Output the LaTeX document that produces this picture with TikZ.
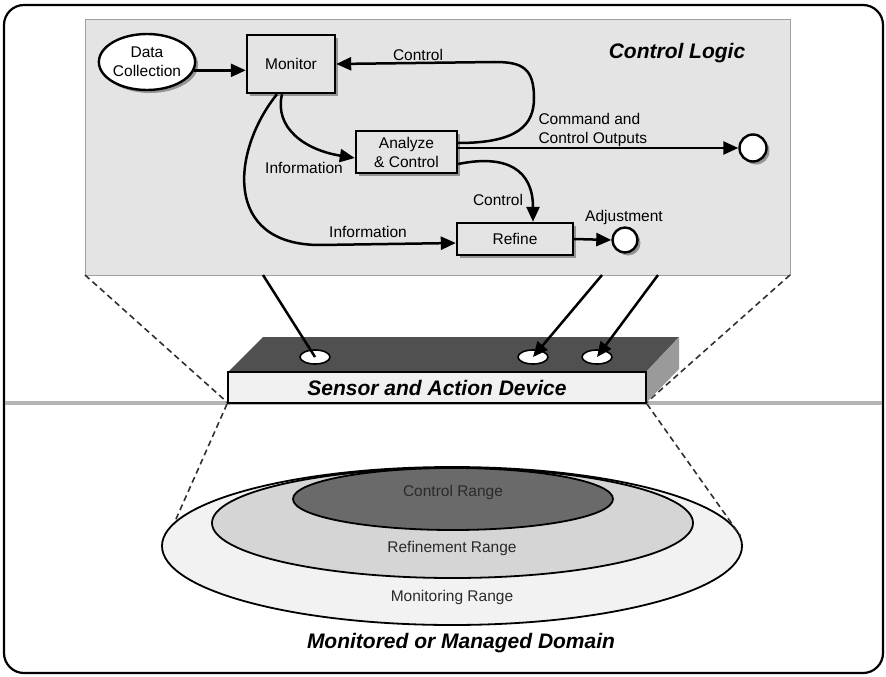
\documentclass[tikz,border=0pt]{standalone}
\usepackage{fontspec}
\setmainfont{Liberation Sans}
\usetikzlibrary{arrows.meta,shapes.geometric,shadows}

\definecolor{panelgray}{HTML}{E4E4E4}
\definecolor{paneledge}{HTML}{A0A0A0}
\definecolor{topface}{HTML}{505050}
\definecolor{sideface}{HTML}{9A9A9A}
\definecolor{frontface}{HTML}{F0F0F0}
\definecolor{rangeout}{HTML}{F2F2F2}
\definecolor{rangemid}{HTML}{D5D5D5}
\definecolor{rangein}{HTML}{6A6A6A}
\definecolor{groundline}{HTML}{B4B4B4}
\definecolor{dashgray}{HTML}{303030}
\definecolor{labelgray}{HTML}{2A2A2A}

\begin{document}
\begin{tikzpicture}[x=1pt,y=-1pt,
  every node/.style={font=\fontsize{15.5}{19}\selectfont},
  dropshade/.style={drop shadow={shadow xshift=3pt,shadow yshift=-3pt,fill=black!55,opacity=0.7}},
  box/.style={draw,line width=2.4pt,fill=panelgray,dropshade,inner sep=0pt,align=center},
  port/.style={circle,draw,line width=2.4pt,fill=white,dropshade,inner sep=0pt},
  flow/.style={line width=2.5pt,-{Triangle[length=15pt,width=13pt]}},
  link/.style={line width=2.5pt},
  guide/.style={dashgray,line width=1.6pt,dash pattern=on 6pt off 4pt},
  headline/.style={font=\fontsize{21}{25}\selectfont\bfseries\itshape},
  hole/.style={ellipse,draw,line width=1.6pt,fill=white,minimum width=30pt,minimum height=14pt,inner sep=0pt},
  zone/.style={ellipse,draw,line width=1.8pt,inner sep=0pt},
]
\useasboundingbox (0,0) rectangle (886,677);

% outer frame
\draw[line width=2.2pt,rounded corners=20pt] (4,5) rectangle (883,673);

% ground line
\draw[groundline,line width=4pt] (5,403) -- (882,403);

% control logic panel
\draw[paneledge,fill=panelgray,line width=1pt] (85,20) rectangle (790,275);
\coordinate (pl) at (85,275);
\coordinate (pr) at (790,275);
\coordinate (p1) at (263,275);
\coordinate (p2) at (602,275);
\coordinate (p3) at (658,275);

\node[headline] (tcl) at (677,53) {Control Logic};

% blocks
\node[ellipse,draw,line width=2.4pt,fill=white,dropshade,minimum width=94pt,minimum height=56pt,inner sep=0pt,align=center] (dc) at (147,62) {Data\\Collection};
\node[box,minimum width=88pt,minimum height=58pt] (mon) at (291,64) {Monitor};
\node[box,minimum width=101pt,minimum height=42pt] (ana) at (406.5,152) {Analyze\\\& Control};
\node[box,minimum width=116pt,minimum height=32pt] (ref) at (515,239) {Refine};
\node[port,minimum size=25pt] (adj) at (625,240) {};
\node[port,minimum size=27pt] (cmd) at (753,148) {};

% labels
\node (lc1) at (418,55) {Control};
\node (li1) at (304,168) {Information};
\node[align=left,anchor=west] (lcmd) at (535,130) {Command and\\Control Outputs};
\node (lc2) at (498,200) {Control};
\node (ladj) at (624,217) {Adjustment};
\node (li2) at (368,232) {Information};

% flows
\draw[flow] (dc.-10) -- (mon.west |- dc.-10);
\draw[flow] ([yshift=9pt]ana.east) .. controls (518,143) and (534,125) .. (534,98)
  .. controls (534,68) and (522,62) .. (495,62) -- (mon.east);
\draw[flow] (ana.east |- cmd.west) -- (cmd.west);
\draw[flow] ([yshift=-12pt]ana.east) .. controls (507,154) and (533,170) .. ([xshift=18pt]ref.north);
\draw[flow] ([xshift=-9pt]mon.south) .. controls (274,128) and (305,150) .. ([yshift=-6pt]ana.west);
\draw[flow] ([xshift=-14pt]mon.south) .. controls (232,150) and (222,245) .. (320,245) -- ([yshift=-4pt]ref.west);
\draw[flow] (ref.east) -- (adj.west);

% projection guides from the panel
\draw[guide] (pl) -- (228,403);
\draw[guide] (pr) -- (646,403);

% sensor and action device
\fill[topface] (228,372) -- (263,337) -- (679,337) -- (646,372) -- cycle;
\fill[sideface] (646,372) -- (679,337) -- (679,369) -- (646,403) -- cycle;
\node[draw,line width=2pt,fill=frontface,minimum width=418pt,minimum height=31pt,inner sep=0pt,headline] (dev) at (437,387.5) {Sensor and Action Device};
\node[hole] (h1) at (315,357) {};
\node[hole] (h2) at (533,357) {};
\node[hole] (h3) at (597,357) {};

\draw[link] (p1) -- (h1.center);
\draw[flow] (p2) -- (h2.center);
\draw[flow] (p3) -- (h3.center);

% ranges of the domain
\node[zone,fill=rangeout,minimum width=580pt,minimum height=158pt] (mr) at (452,546) {};
\node[zone,fill=rangemid,minimum width=481pt,minimum height=110pt] (rr) at (452.5,523) {};
\node[zone,fill=rangein,minimum width=320pt,minimum height=62pt] (cr) at (453,499) {};

\node[labelgray] (tcr) at (453,492) {Control Range};
\node[labelgray] (trr) at (452,548) {Refinement Range};
\node[labelgray] (tmr) at (452,597) {Monitoring Range};
\node[headline] (tdom) at (461,643) {Monitored or Managed Domain};

% projection guides to the domain
\draw[guide] (dev.south west) -- (mr.175);
\draw[guide] (dev.south east) -- (mr.2);
\end{tikzpicture}
\end{document}
